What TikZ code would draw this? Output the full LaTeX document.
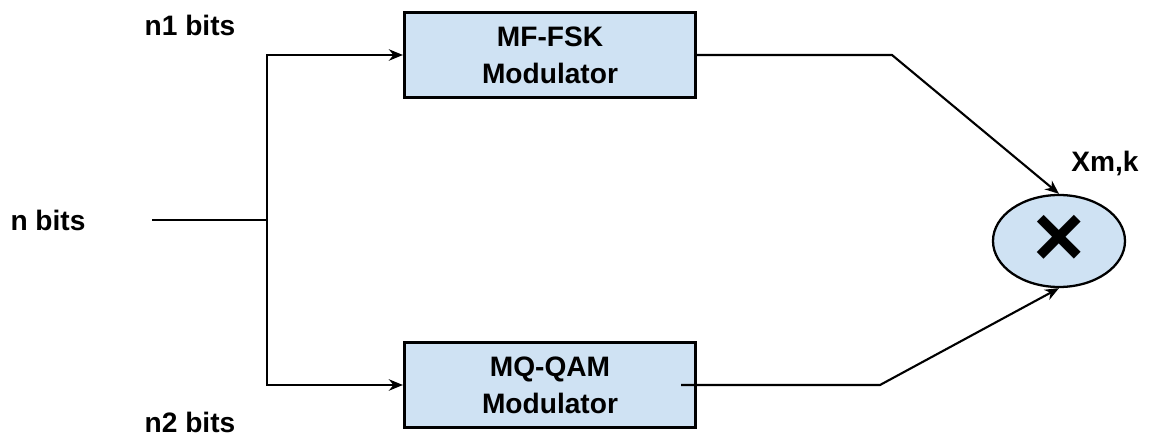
\documentclass[tikz,border=0pt]{standalone}
\usepackage{fontspec}
\setmainfont{Liberation Sans}
\usetikzlibrary{shapes.geometric, arrows.meta}

\tikzset{
  modbox/.style={draw, line width=1.8pt, fill=blockblue, minimum width=5.82cm,
    minimum height=1.7cm, align=center, font=\fontsize{16}{21}\selectfont\bfseries},
  lbl/.style={font=\fontsize{16}{19}\selectfont\bfseries},
}
\definecolor{blockblue}{RGB}{207,226,243}

\begin{document}
\begin{tikzpicture}[>={Stealth[length=8pt, width=6.5pt]}, line width=1.2pt]
\useasboundingbox (0,0) rectangle (23,-8.78);

    % Blok modulator dan pengali
    \node[modbox] (fsk) at (11.0,-1.1) {MF-FSK\\Modulator};
    \node[modbox] (qam) at (11.0,-7.7) {MQ-QAM\\Modulator};
    \node[draw, ellipse, fill=blockblue, line width=1.3pt, minimum width=2.64cm,
         minimum height=1.84cm, inner sep=0pt] (mult) at (21.18,-4.82)
         {\fontsize{50}{50}\selectfont\bfseries ×};

    % Label
    \node[lbl] (n) at (0.96,-4.4) {n bits};
    \node[lbl] (n1) at (3.8,-0.5) {n1 bits};
    \node[lbl] (n2) at (3.8,-8.44) {n2 bits};
    \node[lbl] (xmk) at (22.1,-3.26) {Xm,k};

    \coordinate (in) at (3.04,-4.4);
    \coordinate (split) at (5.34,-4.4);
    \coordinate (topc) at (17.84,-1.1);
    \coordinate (botc) at (17.6,-7.7);

    % Percabangan masukan
    \draw (in) -- (split);
    \draw[->] (split) |- (fsk.west);
    \draw[->] (split) |- (qam.west);

    % Keluaran ke pengali
    \draw[->] (fsk.east) -- (topc) -- (mult.north);
    \draw[->] ([xshift=-0.32cm]qam.east) -- (botc) -- (mult.south);

\end{tikzpicture}
\end{document}
